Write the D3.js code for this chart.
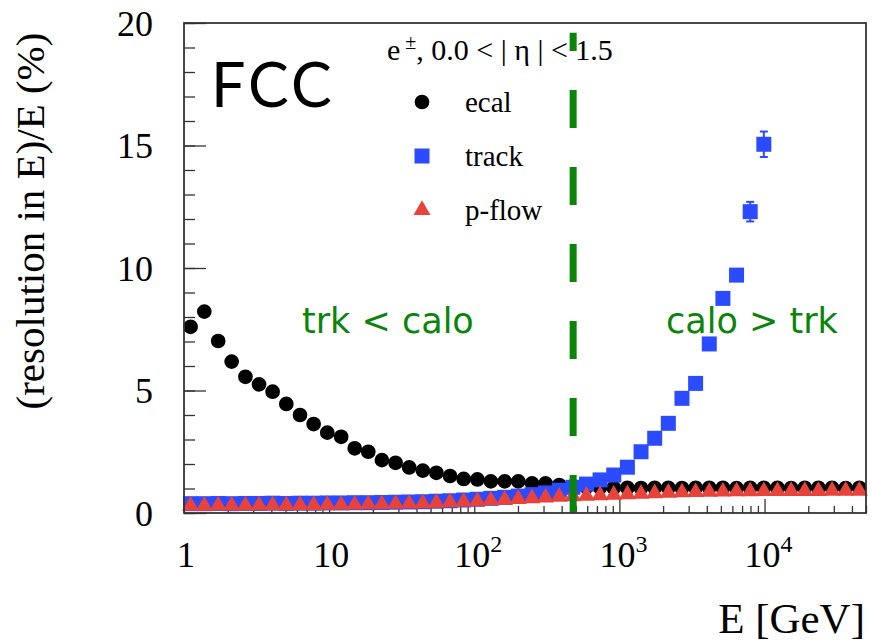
<!DOCTYPE html>
<html>
<head>
<meta charset="utf-8">
<script src="https://cdn.jsdelivr.net/npm/d3@7"></script>
<style>
  html, body { margin: 0; padding: 0; background: #fff; }
  svg { display: block; }
  .serif { font-family: "Liberation Serif", "Times New Roman", serif; }
  .sans { font-family: Lato, "Open Sans", sans-serif; }
  .wide { font-family: "DejaVu Sans", Verdana, sans-serif; }
</style>
</head>
<body>
<div id="chart"></div>
<script>
// bin centres in E [GeV] (log binning, 1 .. 5e4)
const energy = [1.11, 1.38, 1.72, 2.13, 2.65, 3.29, 4.08, 5.07, 6.30, 7.82,
  9.71, 12.1, 15.0, 18.6, 23.1, 28.7, 35.6, 44.2, 54.8, 68.1,
  84.5, 105, 130, 162, 201, 250, 310, 385, 478, 593,
  736, 914, 1135, 1409, 1750, 2173, 2698, 3350, 4160, 5164,
  6412, 7962, 9886, 12274, 15240, 18923, 23496, 29174, 36224, 44978];

// resolution (%) per series
const ecal = [7.60, 8.22, 7.02, 6.18, 5.56, 5.25, 4.95, 4.45, 4.00, 3.63,
  3.28, 3.11, 2.64, 2.50, 2.16, 2.05, 1.86, 1.73, 1.64, 1.51,
  1.39, 1.37, 1.29, 1.29, 1.29, 1.21, 1.21, 1.14, 1.10, 1.06,
  1.04, 1.03, 1.03, 1.02, 1.03, 1.03, 1.02, 1.03, 1.03, 1.03,
  1.02, 1.03, 1.03, 1.03, 1.02, 1.03, 1.03, 1.03, 1.02, 1.03];

const track = [0.38, 0.38, 0.39, 0.38, 0.39, 0.39, 0.40, 0.39, 0.40, 0.40,
  0.41, 0.41, 0.42, 0.42, 0.43, 0.44, 0.45, 0.46, 0.48, 0.50,
  0.53, 0.56, 0.60, 0.64, 0.69, 0.75, 0.82, 0.93, 1.05, 1.18,
  1.35, 1.55, 1.87, 2.50, 3.05, 3.66, 4.68, 5.29, 6.90, 8.76,
  9.71, 12.30, 15.05];
const trackErr = [0, 0, 0, 0, 0, 0, 0, 0, 0, 0,
  0, 0, 0, 0, 0, 0, 0, 0, 0, 0,
  0, 0, 0, 0, 0, 0, 0, 0, 0, 0,
  0, 0, 0, 0, 0, 0, 0, 0, 0, 0,
  0, 0.40, 0.52];

const pflow = [0.33, 0.33, 0.34, 0.34, 0.34, 0.35, 0.35, 0.35, 0.36, 0.36,
  0.37, 0.37, 0.38, 0.39, 0.40, 0.41, 0.42, 0.44, 0.46, 0.48,
  0.50, 0.52, 0.55, 0.58, 0.61, 0.64, 0.67, 0.70, 0.72, 0.74,
  0.76, 0.78, 0.80, 0.82, 0.84, 0.86, 0.88, 0.89, 0.90, 0.91,
  0.92, 0.92, 0.93, 0.93, 0.94, 0.94, 0.94, 0.95, 0.95, 0.95];

const xTickValues = [1, 10, 100, 1000, 10000];
const xTickLabels = [["1", ""], ["10", ""], ["10", "2"], ["10", "3"], ["10", "4"]];
const yMajorTicks = [0, 5, 10, 15, 20];
const crossover = 480;   // GeV, where trk and calo resolutions meet
const legendItems = [
  { name: "ecal", symbol: d3.symbolCircle, color: "#000000", size: 170 },
  { name: "track", symbol: d3.symbolSquare, color: "#2a4bff", size: 225 },
  { name: "p-flow", symbol: d3.symbolTriangle, color: "#e8433a", size: 125 }
];

const W = 872, H = 643;
const margin = { top: 23, right: 6, bottom: 130, left: 184 };
const width = W - margin.left - margin.right;
const height = H - margin.top - margin.bottom;

const svg = d3.select("#chart").append("svg")
  .attr("width", W)
  .attr("height", H);

const g = svg.append("g")
  .attr("transform", `translate(${margin.left},${margin.top})`);

const x = d3.scaleLog().domain([1, 5e4]).range([0, width]);
const y = d3.scaleLinear().domain([0, 20]).range([height, 0]);

// ---- axes (ticks drawn inwards like ROOT) ----
g.append("g")
  .call(d3.axisLeft(y).tickValues(d3.range(0, 21, 1)).tickSize(-11).tickFormat(""));
const yMajor = g.append("g")
  .attr("class", "serif")
  .call(d3.axisLeft(y).tickValues(yMajorTicks).tickSize(-22).tickPadding(31));
yMajor.selectAll("text")
  .attr("font-size", 36)
  .attr("fill", "#000")
  .attr("dy", "0.34em");

const xMinorVals = [];
for (let dec = 1; dec <= 1e4; dec *= 10) {
  for (let k = 2; k <= 9; k++) {
    if (dec * k <= 5e4) xMinorVals.push(dec * k);
  }
}
g.append("g")
  .attr("transform", `translate(0,${height})`)
  .call(d3.axisBottom(x).tickValues(xMinorVals).tickSize(-7).tickFormat(""));
g.append("g")
  .attr("transform", `translate(0,${height})`)
  .call(d3.axisBottom(x).tickValues(xTickValues).tickSize(-14).tickFormat(""));

g.selectAll(".domain").remove();
g.selectAll(".tick line").attr("stroke", "#333").attr("stroke-width", 1.3);

// x tick labels with superscripts
const xl = g.append("g").attr("class", "serif");
xTickValues.forEach((v, i) => {
  const t = xl.append("text")
    .attr("x", x(v) + (xTickLabels[i][1] ? 4 : 2))
    .attr("y", height + 54)
    .attr("text-anchor", "middle")
    .attr("font-size", 36)
    .attr("fill", "#000");
  t.append("tspan").text(xTickLabels[i][0]);
  if (xTickLabels[i][1]) {
    t.append("tspan").attr("dy", -15).attr("font-size", 24).text(xTickLabels[i][1]);
  }
});

// ---- data ----
const sym = d3.symbol();

const ecalData = ecal.map((v, i) => ({ e: energy[i], v: v }));
const trackData = track.map((v, i) => ({ e: energy[i], v: v, err: trackErr[i] }));
const pflowData = pflow.map((v, i) => ({ e: energy[i], v: v }));

g.append("g").selectAll("path")
  .data(ecalData)
  .join("path")
  .attr("transform", d => `translate(${x(d.e)},${y(d.v)})`)
  .attr("d", sym.type(legendItems[0].symbol).size(legendItems[0].size)())
  .attr("fill", legendItems[0].color);

const tg = g.append("g");
tg.selectAll(".err")
  .data(trackData.filter(d => d.err > 0))
  .join("g")
  .attr("class", "err")
  .each(function (d) {
    const e = d3.select(this);
    const cx = x(d.e);
    e.append("line")
      .attr("x1", cx).attr("x2", cx)
      .attr("y1", y(d.v - d.err)).attr("y2", y(d.v + d.err))
      .attr("stroke", legendItems[1].color).attr("stroke-width", 2);
    [d.v - d.err, d.v + d.err].forEach(vv => {
      e.append("line")
        .attr("x1", cx - 4).attr("x2", cx + 4)
        .attr("y1", y(vv)).attr("y2", y(vv))
        .attr("stroke", legendItems[1].color).attr("stroke-width", 2);
    });
  });
tg.selectAll("path")
  .data(trackData)
  .join("path")
  .attr("transform", d => `translate(${x(d.e)},${y(d.v)})`)
  .attr("d", sym.type(legendItems[1].symbol).size(legendItems[1].size)())
  .attr("fill", legendItems[1].color);

g.append("g").selectAll("path")
  .data(pflowData)
  .join("path")
  .attr("transform", d => `translate(${x(d.e)},${y(d.v) + 1})`)
  .attr("d", sym.type(legendItems[2].symbol).size(legendItems[2].size)())
  .attr("fill", legendItems[2].color);

// crossover marker
g.append("line")
  .attr("x1", x(crossover)).attr("x2", x(crossover))
  .attr("y1", y(0)).attr("y2", y(19.6))
  .attr("stroke", "#0a850a")
  .attr("stroke-width", 7)
  .attr("stroke-dasharray", "38,39");

// frame
g.append("rect")
  .attr("width", width).attr("height", height)
  .attr("fill", "none")
  .attr("stroke", "#333")
  .attr("stroke-width", 1.8);

// ---- legend ----
const leg = g.append("g").attr("class", "serif");
const header = leg.append("text")
  .attr("x", 387 - margin.left)
  .attr("y", 60 - margin.top)
  .attr("font-size", 30)
  .attr("fill", "#000");
header.append("tspan").text("e");
header.append("tspan").attr("dy", -11).attr("font-size", 20).text(" \u00b1");
header.append("tspan").attr("dy", 11).text(", 0.0 < | \u03b7 | < 1.5");

legendItems.forEach((d, i) => {
  const cy = 102 + i * 54 - margin.top;
  leg.append("path")
    .attr("transform", `translate(${422 - margin.left},${cy})`)
    .attr("d", sym.type(d.symbol).size(d.size)())
    .attr("fill", d.color);
  leg.append("text")
    .attr("x", 465 - margin.left)
    .attr("y", cy + 10)
    .attr("font-size", 29)
    .attr("fill", "#000")
    .text(d.name);
});

// ---- annotations ----
svg.append("text")
  .attr("class", "sans")
  .attr("x", 211).attr("y", 107)
  .attr("font-size", 61)
  .attr("letter-spacing", 3)
  .attr("fill", "#000")
  .text("FCC");

svg.append("text")
  .attr("class", "wide")
  .attr("x", 302).attr("y", 333)
  .attr("font-size", 35)
  .attr("fill", "#0a850a")
  .text("trk < calo");

svg.append("text")
  .attr("class", "wide")
  .attr("x", 666).attr("y", 333)
  .attr("font-size", 35)
  .attr("fill", "#0a850a")
  .text("calo > trk");

// axis titles
svg.append("text")
  .attr("class", "serif")
  .attr("x", 865).attr("y", 633)
  .attr("text-anchor", "end")
  .attr("font-size", 43)
  .attr("fill", "#000")
  .text("E [GeV]");

svg.append("text")
  .attr("class", "serif")
  .attr("transform", "translate(44,221) rotate(-90)")
  .attr("text-anchor", "middle")
  .attr("font-size", 41)
  .attr("fill", "#000")
  .text("(resolution in E)/E (%)");
</script>
</body>
</html>
